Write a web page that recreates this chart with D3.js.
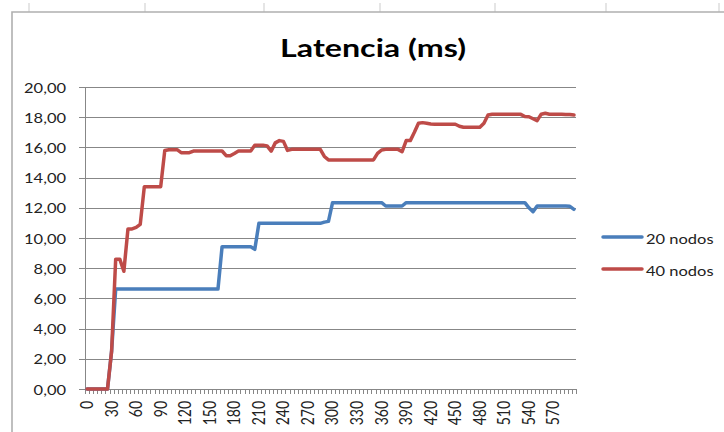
<!DOCTYPE html>
<html><head><meta charset="utf-8">
<script src="https://cdn.jsdelivr.net/npm/d3@7"></script>
<style>
html,body{margin:0;padding:0;background:#fff;}
svg{display:block;font-family:Lato,"Open Sans",sans-serif;}
</style>
</head><body>
<svg id="c" width="724" height="432"></svg>
<script>
// ---- data ----
const times = [0,5,10,15,20,25,30,35,40,45,50,55,60,65,70,75,80,85,90,95,
 100,105,110,115,120,125,130,135,140,145,150,155,160,165,170,175,180,185,190,195,
 200,205,210,215,220,225,230,235,240,245,250,255,260,265,270,275,280,285,290,295,
 300,305,310,315,320,325,330,335,340,345,350,355,360,365,370,375,380,385,390,395,
 400,405,410,415,420,425,430,435,440,445,450,455,460,465,470,475,480,485,490,495,
 500,505,510,515,520,525,530,535,540,545,550,555,560,565,570,575,580,585,590,595];

const nodos20 = [0,0,0,0,0,0,2.5,
 6.62,6.62,6.62,6.62,6.62,6.62,6.62,6.62,6.62,6.62,6.62,6.62,6.62,6.62,6.62,6.62,6.62,6.62,6.62,6.62,6.62,6.62,6.62,6.62,6.62,6.62,
 9.42,9.42,9.42,9.42,9.42,9.42,9.42,9.42,
 9.25,
 10.97,10.97,10.97,10.97,10.97,10.97,10.97,10.97,10.97,10.97,10.97,10.97,10.97,10.97,10.97,10.97,
 11.05,11.1,
 12.34,12.34,12.34,12.34,12.34,12.34,12.34,12.34,12.34,12.34,12.34,12.34,12.34,
 12.12,12.12,12.12,12.12,12.12,
 12.34,12.34,12.34,12.34,12.34,12.34,12.34,12.34,12.34,12.34,12.34,12.34,12.34,12.34,12.34,
 12.34,12.34,12.34,12.34,12.34,12.34,12.34,12.34,12.34,12.34,12.34,12.34,12.34,12.34,12.34,
 12.0,11.74,
 12.12,12.12,12.12,12.12,12.12,12.12,12.12,12.12,
 12.1,11.9];

const nodos40 = [0,0,0,0,0,0,2.5,
 8.6,8.6,7.8,10.6,10.6,10.7,10.9,
 13.4,13.4,13.4,13.4,13.4,
 15.8,15.85,15.85,15.85,15.65,15.65,15.65,
 15.76,15.76,15.76,15.76,15.76,15.76,15.76,15.76,
 15.45,15.45,15.6,
 15.76,15.76,15.76,15.76,
 16.15,16.15,16.15,16.1,15.75,16.3,16.45,16.4,15.8,
 15.87,15.87,15.87,15.87,15.87,15.87,15.87,15.87,
 15.4,
 15.17,15.17,15.17,15.17,15.17,15.17,15.17,15.17,15.17,15.17,15.17,15.17,
 15.6,15.83,
 15.87,15.87,15.87,15.87,
 15.72,16.45,16.45,17.0,17.6,17.64,17.6,17.55,
 17.53,17.53,17.53,17.53,17.53,17.53,
 17.4,
 17.33,17.33,17.33,17.33,17.33,
 17.6,18.15,
 18.19,18.19,18.19,18.19,18.19,18.19,18.19,18.19,
 18.05,18.03,17.9,17.77,18.2,18.26,
 18.2,18.2,18.2,18.2,
 18.18,18.18,18.15];

const yTickValues = [0,2,4,6,8,10,12,14,16,18,20];
const yTickLabels = ["0,00","2,00","4,00","6,00","8,00","10,00","12,00","14,00","16,00","18,00","20,00"];
const xLabelEvery = 6;
const seriesNames = ["20 nodos","40 nodos"];
const seriesColors = ["#4A7EBB","#BE4B48"];
const chartTitle = "Latencia (ms)";

// ---- layout ----
const svg = d3.select("#c");
const L = 85, R = 576, T = 87, B = 389;
const gridColor = "#878787";

// sheet decoration & chart-area border
const sheetCols = [29, 145, 264, 380, 495, 606, 719];
svg.append("g").selectAll("line").data(sheetCols).join("line")
  .attr("x1", d => d).attr("x2", d => d).attr("y1", 3).attr("y2", 12)
  .attr("stroke", "#dcdcdc").attr("stroke-width", 1.5);
svg.append("path").attr("d", "M12,432V12H724").attr("fill", "none")
  .attr("stroke", "#b0b0b0").attr("stroke-width", 1.6);

// measure stretch factors
function measure(txt, size, weight) {
  const t = svg.append("text").attr("font-size", size).attr("font-weight", weight).text(txt);
  const w = t.node().getComputedTextLength();
  t.remove();
  return w;
}
const fs = 14;
const sx = 42 / measure("18,00", fs, "normal");
const sxT = 186 / measure(chartTitle, 25, "bold");

// scales
const x = d3.scaleBand().domain(times).range([L, R]).padding(0);
const xi = d3.scaleLinear().domain([0, times.length]).range([L, R]);
const y = d3.scaleLinear().domain([0, 20]).range([B, T]);

// gridlines
const grid = svg.append("g").attr("transform", `translate(${L},0)`)
  .call(d3.axisLeft(y).tickValues(yTickValues).tickSize(-(R - L)).tickFormat(""));
grid.select(".domain").remove();
grid.selectAll("line").attr("stroke", gridColor).attr("shape-rendering", "crispEdges");

// y axis
const yAx = svg.append("g").attr("transform", `translate(${L},0)`)
  .call(d3.axisLeft(y).tickValues(yTickValues).tickSize(6).tickPadding(0)
    .tickFormat((d, i) => yTickLabels[i]));
yAx.select(".domain").attr("stroke", gridColor).attr("d", `M0,${B}V${T}`).attr("shape-rendering", "crispEdges");
yAx.selectAll(".tick line").attr("stroke", gridColor).attr("shape-rendering", "crispEdges");
yAx.selectAll(".tick text")
  .attr("x", null).attr("dy", "0.36em")
  .attr("transform", `translate(-19,0) scale(${sx},1)`)
  .attr("font-size", fs).attr("font-family", "Lato").attr("fill", "#222");

// x axis: tick marks between categories
const xTicks = svg.append("g").attr("transform", `translate(0,${B})`)
  .call(d3.axisBottom(xi).tickValues(d3.range(times.length + 1)).tickSize(5).tickFormat(""));
xTicks.select(".domain").attr("stroke", gridColor).attr("d", `M${L - 6},0H${R}`).attr("shape-rendering", "crispEdges");
xTicks.selectAll(".tick line").attr("stroke", gridColor).attr("shape-rendering", "crispEdges");

// x axis labels
const xLab = svg.append("g").attr("transform", `translate(0,${B})`)
  .call(d3.axisBottom(x).tickValues(times.filter((d, i) => i % xLabelEvery === 0)).tickSize(0));
xLab.select(".domain").remove();
xLab.selectAll(".tick text")
  .attr("y", null).attr("x", -12).attr("dy", "0.36em")
  .attr("text-anchor", "end")
  .attr("transform", `scale(${sx},1) rotate(-90)`)
  .attr("font-size", fs).attr("font-family", "Lato").attr("fill", "#222");

// lines
const line = d3.line().x((d, i) => x(times[i]) + x.bandwidth() / 2).y(d => y(d));
[nodos20, nodos40].forEach((s, k) => {
  svg.append("path").datum(s).attr("d", line)
    .attr("fill", "none").attr("stroke", seriesColors[k]).attr("stroke-width", 3.5)
    .attr("stroke-linejoin", "round").attr("stroke-linecap", "round");
});

// title
svg.append("text").attr("transform", `translate(373,57) scale(${sxT},1)`)
  .attr("text-anchor", "middle").attr("font-size", 25).attr("font-weight", "bold")
  .attr("font-family", "Lato").attr("fill", "#000").text(chartTitle);

// legend
const legY = [237, 269];
const leg = svg.append("g").selectAll("g").data(seriesNames).join("g")
  .attr("transform", (d, i) => `translate(603,${legY[i]})`);
leg.append("line").attr("x1", 0).attr("x2", 39).attr("y1", 0).attr("y2", 0)
  .attr("stroke", (d, i) => seriesColors[i]).attr("stroke-width", 3.5).attr("stroke-linecap", "round");
leg.append("text").attr("transform", `translate(43,6.5) scale(${sx},1)`)
  .attr("font-size", fs).attr("font-family", "Lato").attr("fill", "#222").text(d => d);
</script>
</body></html>
